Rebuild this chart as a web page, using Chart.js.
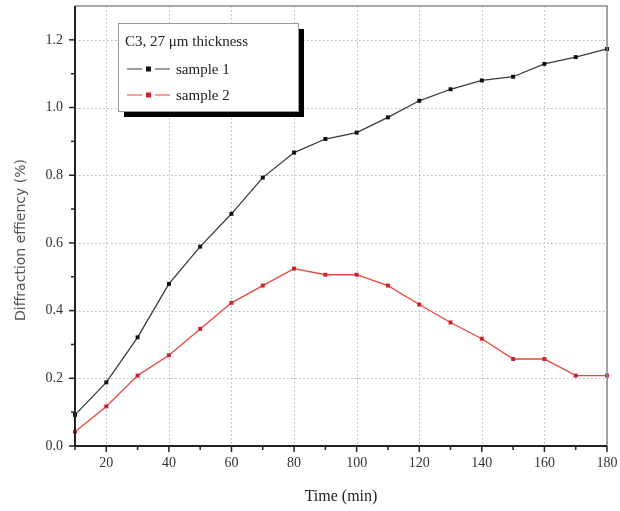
<!DOCTYPE html>
<html>
<head>
<meta charset="utf-8">
<script src="https://cdn.jsdelivr.net/npm/chart.js@4.4.1/dist/chart.umd.min.js"></script>
<style>
  html, body { margin: 0; padding: 0; background: #fff; }
  #wrap { width: 620px; height: 511px; }
</style>
</head>
<body>
<div id="wrap"><canvas id="chart" width="620" height="511"></canvas></div>
<script>
// --- data ---
const times   = [10, 20, 30, 40, 50, 60, 70, 80, 90, 100, 110, 120, 130, 140, 150, 160, 170, 180];
const sample1 = [0.092, 0.188, 0.321, 0.479, 0.589, 0.686, 0.793, 0.867, 0.907, 0.926, 0.971, 1.020, 1.054, 1.080, 1.091, 1.129, 1.149, 1.173];
const sample2 = [0.042, 0.117, 0.208, 0.268, 0.346, 0.423, 0.474, 0.524, 0.506, 0.506, 0.474, 0.418, 0.365, 0.317, 0.257, 0.257, 0.208, 0.208];
const xTicks = [20, 40, 60, 80, 100, 120, 140, 160, 180];
const yTicks = [0, 0.2, 0.4, 0.6, 0.8, 1.0, 1.2];
const legendTitle = 'C3, 27 \u03bcm thickness';

const SERIF = '"Liberation Serif", "DejaVu Serif", serif';

// Grid, axes, tick marks, titles and the boxed legend
const framePlugin = {
    id: 'frame',
    beforeDatasetsDraw(chart) {
        const { ctx, chartArea: a, scales: { x, y } } = chart;
        ctx.save();
        ctx.strokeStyle = '#adb4cc';
        ctx.lineWidth = 1;
        ctx.setLineDash([1.5, 2.5]);
        xTicks.forEach(v => {
            const px = Math.round(x.getPixelForValue(v)) + 0.5;
            ctx.beginPath(); ctx.moveTo(px, a.top); ctx.lineTo(px, a.bottom); ctx.stroke();
        });
        yTicks.forEach(v => {
            const py = Math.round(y.getPixelForValue(v)) + 0.5;
            ctx.beginPath(); ctx.moveTo(a.left, py); ctx.lineTo(a.right, py); ctx.stroke();
        });
        ctx.restore();
    },
    afterDraw(chart) {
        const { ctx, chartArea: a, scales: { x, y } } = chart;
        ctx.save();
        // top / right frame
        ctx.strokeStyle = '#8a8a8a';
        ctx.lineWidth = 1.5;
        ctx.beginPath();
        ctx.moveTo(a.left, a.top); ctx.lineTo(a.right, a.top); ctx.lineTo(a.right, a.bottom);
        ctx.stroke();
        // left / bottom axes
        ctx.strokeStyle = '#222';
        ctx.lineWidth = 2;
        ctx.beginPath();
        ctx.moveTo(a.left, a.top); ctx.lineTo(a.left, a.bottom); ctx.lineTo(a.right, a.bottom);
        ctx.stroke();
        // tick marks
        ctx.lineWidth = 1.5;
        for (let v = 10; v <= 180; v += 10) {
            const px = x.getPixelForValue(v);
            const len = v % 20 === 0 ? 6 : 4;
            ctx.beginPath(); ctx.moveTo(px, a.bottom); ctx.lineTo(px, a.bottom + len); ctx.stroke();
        }
        for (let i = 0; i <= 12; i++) {
            const py = y.getPixelForValue(i / 10);
            const len = i % 2 === 0 ? 6 : 4;
            ctx.beginPath(); ctx.moveTo(a.left, py); ctx.lineTo(a.left - len, py); ctx.stroke();
        }
        // axis titles
        ctx.fillStyle = '#222';
        ctx.font = '16px ' + SERIF;
        ctx.textAlign = 'center';
        ctx.textBaseline = 'middle';
        ctx.fillText('Time (min)', (a.left + a.right) / 2, 497);
        ctx.save();
        ctx.translate(21, 240);
        ctx.rotate(-Math.PI / 2);
        ctx.fillStyle = '#555';
        ctx.font = '14px "DejaVu Sans", sans-serif';
        ctx.fillText('Diffraction effiency (%)', 0, 0);
        ctx.restore();

        // legend box with shadow
        const bx = 118, by = 23, bw = 180, bh = 88;
        ctx.fillStyle = '#000';
        ctx.fillRect(bx + 6, by + 6, bw, bh);
        ctx.fillStyle = '#fff';
        ctx.fillRect(bx, by, bw, bh);
        ctx.strokeStyle = '#999';
        ctx.lineWidth = 1;
        ctx.strokeRect(bx + 0.5, by + 0.5, bw, bh);
        ctx.fillStyle = '#222';
        ctx.textAlign = 'left';
        ctx.font = '15px ' + SERIF;
        ctx.fillText(legendTitle, bx + 7, by + 19);
        chart.data.datasets.forEach((ds, i) => {
            const cy = by + 46 + i * 26;
            ctx.strokeStyle = ds.borderColor;
            ctx.lineWidth = 1.2;
            ctx.beginPath();
            ctx.moveTo(bx + 9, cy); ctx.lineTo(bx + 24, cy);
            ctx.moveTo(bx + 37, cy); ctx.lineTo(bx + 52, cy);
            ctx.stroke();
            ctx.fillStyle = ds.pointBackgroundColor;
            ctx.fillRect(bx + 30.5 - 2.5, cy - 2.5, 5, 5);
            ctx.fillStyle = '#222';
            ctx.fillText(ds.label, bx + 58, cy + 1);
        });
        ctx.restore();
    }
};

new Chart(document.getElementById('chart'), {
    type: 'line',
    data: {
        datasets: [
            {
                label: 'sample 1',
                data: times.map((t, i) => ({ x: t, y: sample1[i] })),
                borderColor: '#3a3a3a',
                borderWidth: 1.3,
                pointStyle: 'rect',
                pointRadius: 2.8,
                pointBackgroundColor: '#111',
                pointBorderColor: '#111',
                pointBorderWidth: 0,
                tension: 0,
                clip: false
            },
            {
                label: 'sample 2',
                data: times.map((t, i) => ({ x: t, y: sample2[i] })),
                borderColor: '#e8453c',
                borderWidth: 1.3,
                pointStyle: 'rect',
                pointRadius: 2.8,
                pointBackgroundColor: '#d0202a',
                pointBorderColor: '#d0202a',
                pointBorderWidth: 0,
                tension: 0,
                clip: false
            }
        ]
    },
    options: {
        responsive: false,
        animation: false,
        devicePixelRatio: 1,
        layout: { padding: { top: 6, right: 13, left: 0, bottom: 0 } },
        plugins: {
            legend: { display: false },
            tooltip: { enabled: false }
        },
        scales: {
            x: {
                type: 'linear',
                min: 10,
                max: 180,
                afterBuildTicks: s => { s.ticks = xTicks.map(v => ({ value: v })); },
                afterFit: s => { s.height = 65; s.paddingLeft = 0; s.paddingRight = 0; },
                grid: { display: false, drawTicks: false },
                border: { display: false },
                ticks: {
                    padding: 9,
                    color: '#333',
                    font: { family: SERIF, size: 14 },
                    maxRotation: 0
                }
            },
            y: {
                min: 0,
                max: 1.3,
                afterBuildTicks: s => { s.ticks = yTicks.map(v => ({ value: v })); },
                afterFit: s => { s.width = 75; s.paddingTop = 0; s.paddingBottom = 0; },
                grid: { display: false, drawTicks: false },
                border: { display: false },
                ticks: {
                    padding: 12,
                    color: '#333',
                    font: { family: SERIF, size: 14 },
                    callback: v => v.toFixed(1)
                }
            }
        }
    },
    plugins: [framePlugin]
});
</script>
</body>
</html>
